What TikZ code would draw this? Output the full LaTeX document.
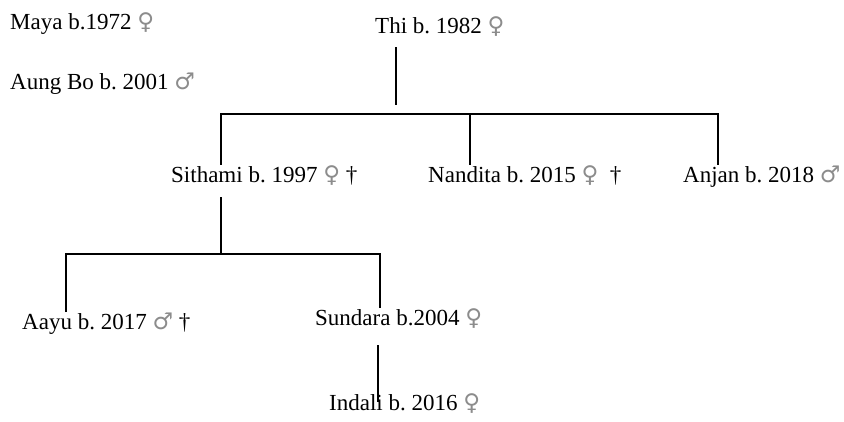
\documentclass[tikz,border=0pt]{standalone}
\usepackage{fontspec}
\setmainfont{Liberation Serif}
\newfontfamily\symfont{DejaVu Sans}
\usetikzlibrary{calc}
\definecolor{sgray}{HTML}{8C8C8C}
\newcommand{\gfem}{{\symfont\color{sgray}♀}}
\newcommand{\gmal}{{\symfont\color{sgray}♂}}
\frenchspacing

\begin{document}
\begin{tikzpicture}[x=1pt, y=-1pt,
  font=\fontsize{23}{27}\selectfont,
  person/.style={anchor=base west, inner sep=0pt},
  link/.style={line width=1.3pt, black},
]
\useasboundingbox (0,0) rectangle (844,421);
% loose entries
\node[person] (may) at (10,29) {Maya b.1972 \gfem};
\node[person] (aun) at (10,89) {Aung Bo b. 2001 \gmal};
\node[person] (thi) at (375,33) {Thi b. 1982 \gfem};
% children of Thi
\node[person] (sit) at (171,182) {Sithami b. 1997 \gfem\ †};
\node[person] (nan) at (428,182) {Nandita b. 2015 \gfem\ \ †};
\node[person] (anj) at (683,182) {Anjan b. 2018 \gmal};
% children of Sithami
\node[person] (aay) at (22,329) {Aayu b. 2017 \gmal\ †};
\node[person] (sun) at (315,325) {Sundara b.2004 \gfem};
\node[person] (ind) at (329,410) {Indali b. 2016 \gfem};
% Thi -> children
\coordinate (t1) at (396,114);
\coordinate (t1l) at (221,114);
\coordinate (t1m) at (470,114);
\coordinate (t1r) at (718,114);
\draw[link, shorten <=14pt, shorten >=9pt] (thi.base -| t1) -- (t1);
\draw[link] (t1l |- sit.north) -- (t1l) -- (t1r) -- (t1r |- anj.north);
\draw[link] (t1m) -- (t1m |- nan.north);
% Sithami -> children
\coordinate (s1) at (221,254);
\coordinate (s1l) at (66,254);
\coordinate (s1r) at (380,254);
\draw[link, shorten <=15pt] (sit.base -| s1) -- (s1);
\draw[link] (s1l |- aay.north) -- (s1l) -- (s1r) -- (s1r |- sun.north);
% Sundara -> Indali
\coordinate (u1) at (378,345);
\draw[link, shorten >=8pt] (u1) -- (u1 |- ind.base);
\end{tikzpicture}
\end{document}
